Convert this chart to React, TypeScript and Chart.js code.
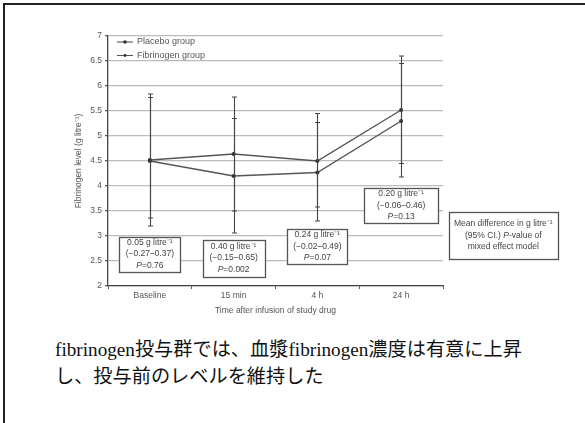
import React, { useEffect, useRef } from 'react';
import { Chart, registerables } from 'chart.js';

Chart.register(...registerables);

// ---- data ----
const categories = ['Baseline', '15 min', '4 h', '24 h'];
const seriesNames = ['Placebo group', 'Fibrinogen group'];
const placeboMean = [4.5, 4.2, 4.27, 5.3];
const placeboLow = [3.2, 3.06, 3.3, 4.18];
const placeboHigh = [5.84, 5.35, 5.27, 6.45];
const fibrinogenMean = [4.52, 4.64, 4.5, 5.52];
const fibrinogenLow = [3.36, 3.5, 3.58, 4.45];
const fibrinogenHigh = [5.77, 5.78, 5.45, 6.6];
const yMin = 2;
const yMax = 7;
const yStep = 0.5;
const yTitle = 'Fibrinogen level (g litre⁻¹)';
const xTitle = 'Time after infusion of study drug';
const noteX = [0, 1, 2, 3, 4.22];
const noteY = [2.64, 2.56, 2.79, 3.61, 3.01];
const noteText = [
  ['0.05 g litre⁻¹', '(−0.27–0.37)', 'P=0.76'],
  ['0.40 g litre⁻¹', '(−0.15–0.65)', 'P=0.002'],
  ['0.24 g litre⁻¹', '(−0.02–0.49)', 'P=0.07'],
  ['0.20 g litre⁻¹', '(−0.06–0.46)', 'P=0.13'],
  ['Mean difference in g litre⁻¹', '(95% CI.) P-value of', 'mixed effect model'],
];
const captionLine1 = 'fibrinogen投与群では、血漿fibrinogen濃度は有意に上昇';
const captionLine2 = 'し、投与前のレベルを維持した';

// ---- styles ----
const FONT = '"Liberation Sans", Arial, sans-serif';
const INK = '#444';
const noteBoxW = [61, 62, 60, 74, 109];
const noteBoxH = [35, 37, 35, 35, 47];

function drawRich(ctx: CanvasRenderingContext2D, text: string, cx: number, cy: number, size: number) {
  const parts = text.split(/(P)/).filter((p) => p.length > 0);
  const fontFor = (p: string) => (p === 'P' ? `italic ${size}px ${FONT}` : `${size}px ${FONT}`);
  let total = 0;
  parts.forEach((p) => {
    ctx.font = fontFor(p);
    total += ctx.measureText(p).width;
  });
  let xx = cx - total / 2;
  ctx.textAlign = 'left';
  ctx.textBaseline = 'middle';
  parts.forEach((p) => {
    ctx.font = fontFor(p);
    ctx.fillText(p, xx, cy);
    xx += ctx.measureText(p).width;
  });
}

const overlayPlugin = {
  id: 'overlay',
  afterDatasetsDraw(chart: any) {
    const { ctx } = chart;
    const x = chart.scales.x;
    const y = chart.scales.y;
    const bars = [
      [placeboLow, placeboHigh],
      [fibrinogenLow, fibrinogenHigh],
    ];
    ctx.save();
    ctx.strokeStyle = INK;
    ctx.lineWidth = 1.1;
    bars.forEach(([lo, hi]) => {
      lo.forEach((l: number, i: number) => {
        const px = Math.round(x.getPixelForValue(i)) + 0.5;
        const pl = y.getPixelForValue(l);
        const ph = y.getPixelForValue(hi[i]);
        ctx.beginPath();
        ctx.moveTo(px, pl);
        ctx.lineTo(px, ph);
        ctx.moveTo(px - 2.5, pl);
        ctx.lineTo(px + 2.5, pl);
        ctx.moveTo(px - 2.5, ph);
        ctx.lineTo(px + 2.5, ph);
        ctx.stroke();
      });
    });
    ctx.restore();
  },
  afterDraw(chart: any) {
    const { ctx, chartArea } = chart;
    const x = chart.scales.x;
    const y = chart.scales.y;
    ctx.save();
    // legend
    chart.data.datasets.forEach((ds: any, i: number) => {
      const ly = chartArea.top + 6 + i * 13.5;
      const lx = chartArea.left + 9;
      ctx.strokeStyle = '#555';
      ctx.lineWidth = 1.1;
      ctx.beginPath();
      ctx.moveTo(lx, ly);
      ctx.lineTo(lx + 16, ly);
      ctx.stroke();
      ctx.fillStyle = '#333';
      ctx.beginPath();
      ctx.arc(lx + 8, ly, i === 0 ? 1.8 : 1.4, 0, Math.PI * 2);
      ctx.fill();
      ctx.fillStyle = '#555';
      ctx.font = `9px ${FONT}`;
      ctx.textAlign = 'left';
      ctx.textBaseline = 'middle';
      ctx.fillText(ds.label, lx + 20, ly);
    });
    // annotation boxes
    noteText.forEach((lines, i) => {
      const cx = x.getPixelForValue(noteX[i]);
      const cy = y.getPixelForValue(noteY[i]);
      const w = noteBoxW[i];
      const h = noteBoxH[i];
      const left = Math.round(cx - w / 2) + 0.5;
      const top = Math.round(cy - h / 2) + 0.5;
      ctx.fillStyle = '#fff';
      ctx.fillRect(left, top, w, h);
      ctx.strokeStyle = '#555';
      ctx.lineWidth = 1.3;
      ctx.strokeRect(left, top, w, h);
      ctx.fillStyle = INK;
      const lh = 11.5;
      lines.forEach((t, k) => {
        drawRich(ctx, t, cx, cy + (k - (lines.length - 1) / 2) * lh, 8.5);
      });
    });
    ctx.restore();
  },
};

export default function App() {
  const ref = useRef<HTMLCanvasElement | null>(null);

  useEffect(() => {
    if (!ref.current) return;
    const chart = new Chart(ref.current, {
      type: 'line',
      data: {
        labels: categories,
        datasets: [
          {
            label: seriesNames[0],
            data: placeboMean,
            borderColor: '#555',
            backgroundColor: '#333',
            borderWidth: 1.4,
            pointRadius: 2,
            pointBackgroundColor: '#333',
            pointBorderWidth: 0,
            tension: 0,
          },
          {
            label: seriesNames[1],
            data: fibrinogenMean,
            borderColor: '#555',
            backgroundColor: '#333',
            borderWidth: 1.4,
            pointRadius: 2,
            pointBackgroundColor: '#333',
            pointBorderWidth: 0,
            tension: 0,
          },
        ],
      },
      options: {
        responsive: false,
        animation: false,
        events: [],
        layout: { padding: { left: 70, right: 142, top: 36, bottom: 0 } },
        plugins: {
          legend: { display: false },
          tooltip: { enabled: false },
          title: { display: false },
        },
        scales: {
          x: {
            type: 'category',
            offset: true,
            afterFit: (s: any) => {
              s.height = 34;
            },
            grid: {
              offset: true,
              drawOnChartArea: false,
              drawTicks: true,
              tickLength: 3,
              color: '#555',
              tickColor: '#555',
            },
            border: { display: true, color: INK, width: 1.3 },
            ticks: {
              color: '#555',
              font: { family: FONT, size: 8.5 },
              padding: 2,
              maxRotation: 0,
            },
            title: {
              display: true,
              text: xTitle,
              color: '#555',
              font: { family: FONT, size: 8.5 },
              padding: { top: 0, bottom: 4 },
            },
          },
          y: {
            min: yMin,
            max: yMax,
            afterFit: (s: any) => {
              s.width = 38;
            },
            ticks: {
              stepSize: yStep,
              color: '#555',
              font: { family: FONT, size: 8.5 },
              padding: 3,
              callback: (v: any) => String(Number(v)),
            },
            grid: {
              color: '#bbb',
              lineWidth: 1.2,
              drawTicks: true,
              tickLength: 3,
              tickColor: '#555',
            },
            border: { display: true, color: INK, width: 1.3 },
            title: {
              display: true,
              text: yTitle,
              color: '#555',
              font: { family: FONT, size: 8.5 },
              padding: { top: 4, bottom: 0 },
            },
          },
        },
      },
      plugins: [overlayPlugin],
    } as any);
    return () => chart.destroy();
  }, []);

  return (
    <div
      style={{
        position: 'absolute',
        left: 0,
        top: 0,
        width: 585,
        height: 423,
        overflow: 'hidden',
        background: '#fff',
      }}
    >
      <div
        style={{
          position: 'absolute',
          left: 3,
          top: 3,
          width: 582,
          height: 420,
          boxSizing: 'border-box',
          borderTop: '2px solid #222',
          borderLeft: '2px solid #222',
        }}
      />
      <canvas
        ref={ref}
        width={585}
        height={320}
        style={{ position: 'absolute', left: 0, top: 0, width: 585, height: 320 }}
      />
      <div
        style={{
          position: 'absolute',
          left: 55,
          top: 336,
          fontFamily: '"Liberation Serif", "Noto Sans CJK JP", serif',
          fontSize: 19.2,
          lineHeight: '27px',
          color: '#111',
          whiteSpace: 'nowrap',
        }}
      >
        {captionLine1}
        <br />
        {captionLine2}
      </div>
    </div>
  );
}
